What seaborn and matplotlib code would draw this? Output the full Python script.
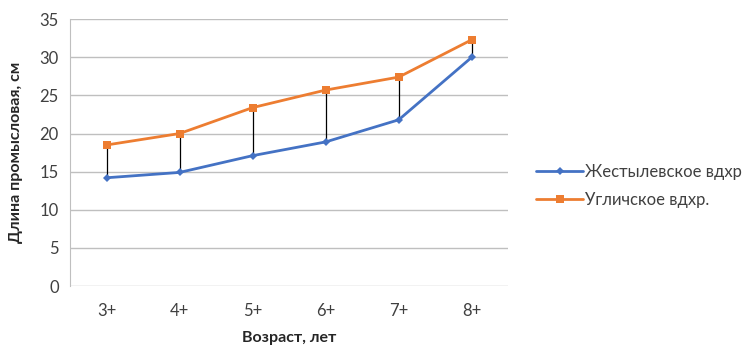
import pandas as pd
import seaborn as sns
import matplotlib.pyplot as plt

ages = ["3+", "4+", "5+", "6+", "7+", "8+"]
zhestylevskoe = [14.2, 14.9, 17.1, 18.9, 21.8, 30.0]
uglichskoe = [18.5, 20.0, 23.4, 25.7, 27.4, 32.3]
series_names = ["Жестылевское вдхр", "Угличское вдхр."]

df = pd.DataFrame({
    "age": ages * 2,
    "length": zhestylevskoe + uglichskoe,
    "series": [series_names[0]] * len(ages) + [series_names[1]] * len(ages),
})

sns.set_style("white")
plt.rcParams["font.family"] = ["Lato", "DejaVu Sans"]

fig = plt.figure(figsize=(7.53, 3.48), dpi=100)
ax = fig.add_axes([0.093, 0.178, 0.582, 0.767])

# high-low lines between the two series
ax.vlines(ages, zhestylevskoe, uglichskoe, color="black", linewidth=0.9, zorder=1)

sns.lineplot(data=df, x="age", y="length", hue="series", style="series",
             markers={series_names[0]: "D", series_names[1]: "s"}, dashes=False,
             palette={series_names[0]: "#4472C4", series_names[1]: "#ED7D31"},
             linewidth=2, markersize=6, markeredgewidth=0, ax=ax, zorder=3)
for line in ax.lines:
    if line.get_marker() == "D":
        line.set_markersize(4.5)

ax.set_xlim(-0.5, 5.5)
ax.set_ylim(0, 35)
ax.set_yticks(range(0, 36, 5))
ax.yaxis.grid(True, color="#BFBFBF", linewidth=1)
ax.set_axisbelow(True)
for s in ["top", "right", "bottom"]:
    ax.spines[s].set_visible(False)
ax.spines["left"].set_color("#BFBFBF")
ax.tick_params(axis="y", length=4, color="#BFBFBF", labelsize=12, labelcolor="#404040", pad=4)
ax.tick_params(axis="x", length=0, labelsize=12, labelcolor="#404040", pad=12)

ax.set_xlabel("Возраст, лет", fontsize=11.5, fontweight="bold", color="#262626", labelpad=9)
ax.set_ylabel("Длина промысловая, см", fontsize=11.5, fontweight="bold", color="#262626", labelpad=12)

ax.legend(loc="center left", bbox_to_anchor=(1.03, 0.375), frameon=False, fontsize=12,
          handlelength=2.8, handletextpad=0.1, labelspacing=0.7, labelcolor="#404040")

fig.savefig("out.png", dpi=100)
